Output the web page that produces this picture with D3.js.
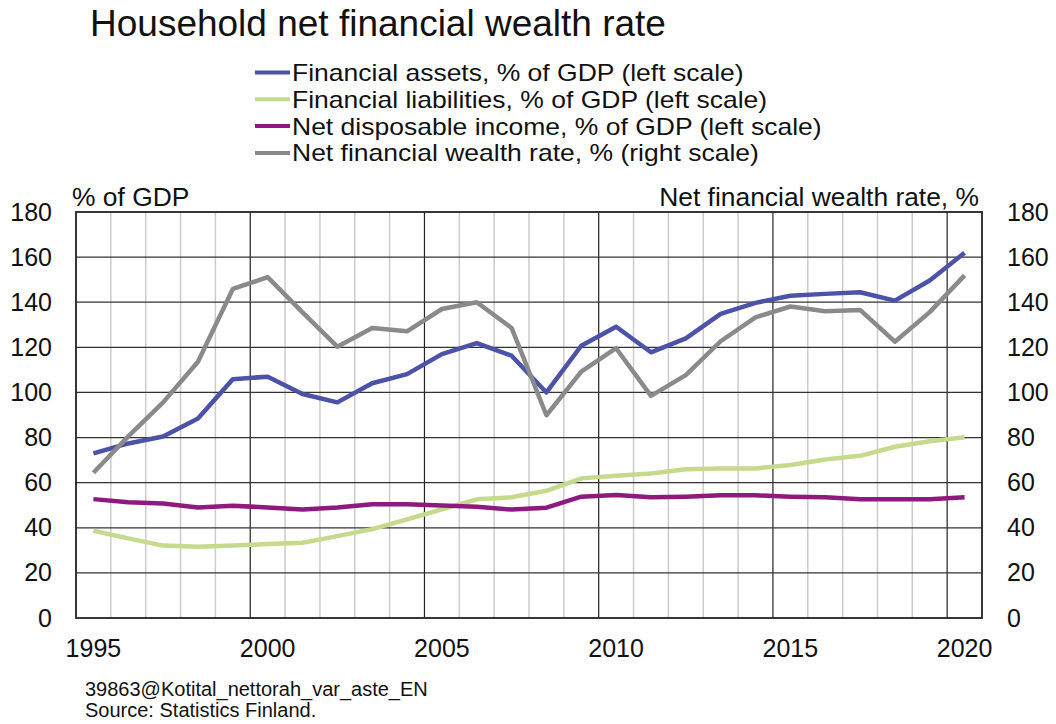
<!DOCTYPE html>
<html><head><meta charset="utf-8">
<script src="https://cdn.jsdelivr.net/npm/d3@7"></script>
<style>body{margin:0;background:#fff;} svg{display:block;font-family:"Liberation Sans",Arial,sans-serif;}</style>
</head><body>
<svg id="chart" width="1056" height="724"></svg>
<script>
const years = d3.range(1995, 2021);
const financialAssets = [73, 77.4, 80.5, 88.4, 105.9, 107, 99.3, 95.6, 104.1, 108.1, 117, 121.9, 116.3, 100, 120.7, 129.1, 117.8, 124, 134.8, 139.7, 142.9, 143.7, 144.4, 140.7, 149.6, 161.9];
const financialLiabilities = [38.7, 35.3, 32.1, 31.6, 32.1, 32.8, 33.4, 36.3, 39.4, 43.7, 48.2, 52.6, 53.5, 56.4, 61.9, 63.1, 64.1, 65.9, 66.3, 66.3, 67.8, 70.3, 71.9, 75.9, 78.4, 80.1];
const netDisposableIncome = [52.7, 51.3, 50.8, 49.0, 49.8, 49.0, 48.1, 49.0, 50.4, 50.4, 49.9, 49.3, 48.1, 48.9, 53.8, 54.5, 53.5, 53.8, 54.4, 54.4, 53.8, 53.5, 52.7, 52.7, 52.7, 53.5];
const netWealthRate = [64.4, 80.5, 95.6, 113.6, 145.9, 151.1, 135.5, 120.3, 128.6, 127.1, 137, 140, 128.6, 89.9, 109.2, 119.6, 98.5, 107.7, 122.7, 133.3, 138.1, 136, 136.6, 122.5, 135.6, 151.9];
const yTicks = [0, 20, 40, 60, 80, 100, 120, 140, 160, 180];
const xTickYears = [1995, 2000, 2005, 2010, 2015, 2020];
const seriesNames = ["Financial assets, % of GDP (left scale)", "Financial liabilities, % of GDP (left scale)", "Net disposable income, % of GDP (left scale)", "Net financial wealth rate, % (right scale)"];
const seriesColors = ["#4b52a8", "#c6d98c", "#8e1a7e", "#8a8a8a"];
const seriesData = [financialAssets, financialLiabilities, netDisposableIncome, netWealthRate];

const svg = d3.select("#chart");
const L = 76, R = 982, T = 212, B = 618;
const x = d3.scaleBand().domain(years).range([L, R]).padding(0);
const yL = d3.scaleLinear().domain([0, 180]).range([B, T]);
const yR = d3.scaleLinear().domain([0, 180]).range([B, T]);
const FF = "Liberation Sans, Arial, sans-serif";

// title
svg.append("text").attr("x", 90).attr("y", 36).attr("font-size", 37).attr("fill", "#111")
  .text("Household net financial wealth rate");

// legend
seriesNames.forEach((n, i) => {
  const yy = 72.5 + i * 26.8;
  svg.append("line").attr("x1", 255).attr("x2", 290).attr("y1", yy).attr("y2", yy)
    .attr("stroke", seriesColors[i]).attr("stroke-width", 4);
  const t = svg.append("text").attr("x", 292).attr("y", yy).attr("dy", "0.36em").attr("font-size", 23.8).attr("fill", "#111").text(n);
  const w = t.node().getComputedTextLength();
  t.attr("textLength", w * 26.5 / 23.8).attr("lengthAdjust", "spacingAndGlyphs");
});

// vertical grid
const g = svg.append("g");
years.slice(1).forEach(yr => {
  const major = yr % 5 === 0;
  g.append("line").attr("x1", x(yr)).attr("x2", x(yr)).attr("y1", T).attr("y2", B)
    .attr("stroke", major ? "#222" : "#cccccc").attr("stroke-width", major ? 1.2 : 1.5);
});
// horizontal grid
g.selectAll(".hg").data(yTicks.slice(1, -1)).join("line")
  .attr("x1", L).attr("x2", R).attr("y1", d => yL(d)).attr("y2", d => yL(d))
  .attr("stroke", "#333").attr("stroke-width", 1.2);
// frame
svg.append("rect").attr("x", L).attr("y", T).attr("width", R - L).attr("height", B - T)
  .attr("fill", "none").attr("stroke", "#222").attr("stroke-width", 1.8);

// axes labels
const axL = d3.axisLeft(yL).tickValues(yTicks).tickSize(0).tickPadding(24);
svg.append("g").attr("transform", `translate(${L},0)`).call(axL)
  .call(s => s.select(".domain").remove())
  .selectAll("text").attr("font-size", 25).attr("fill", "#111").attr("font-family", FF);
const axR = d3.axisRight(yR).tickValues(yTicks).tickSize(0).tickPadding(25);
svg.append("g").attr("transform", `translate(${R},0)`).call(axR)
  .call(s => s.select(".domain").remove())
  .selectAll("text").attr("font-size", 25).attr("fill", "#111").attr("font-family", FF);
const axB = d3.axisBottom(x).tickValues(xTickYears).tickSize(0).tickPadding(21);
svg.append("g").attr("transform", `translate(0,${B})`).call(axB)
  .call(s => s.select(".domain").remove())
  .selectAll("text").attr("font-size", 25).attr("fill", "#111").attr("font-family", FF);

svg.append("text").attr("x", 72).attr("y", 206).attr("font-size", 26.4).attr("fill", "#111").text("% of GDP");
svg.append("text").attr("x", 979).attr("y", 206).attr("text-anchor", "end").attr("font-size", 26.4).attr("fill", "#111").text("Net financial wealth rate, %");

// lines
const cx = d => x(d) + x.bandwidth() / 2;
seriesData.forEach((vals, i) => {
  const sc = i === 3 ? yR : yL;
  const line = d3.line().x((d, j) => cx(years[j])).y(d => sc(d));
  svg.append("path").datum(vals).attr("d", line).attr("fill", "none")
    .attr("stroke", seriesColors[i]).attr("stroke-width", 4.5).attr("stroke-linejoin", "round");
});

// footer
svg.append("text").attr("x", 85).attr("y", 696).attr("font-size", 20).attr("fill", "#111").text("39863@Kotital_nettorah_var_aste_EN");
svg.append("text").attr("x", 85).attr("y", 717).attr("font-size", 20).attr("fill", "#111").text("Source: Statistics Finland.");
</script>
</body></html>
